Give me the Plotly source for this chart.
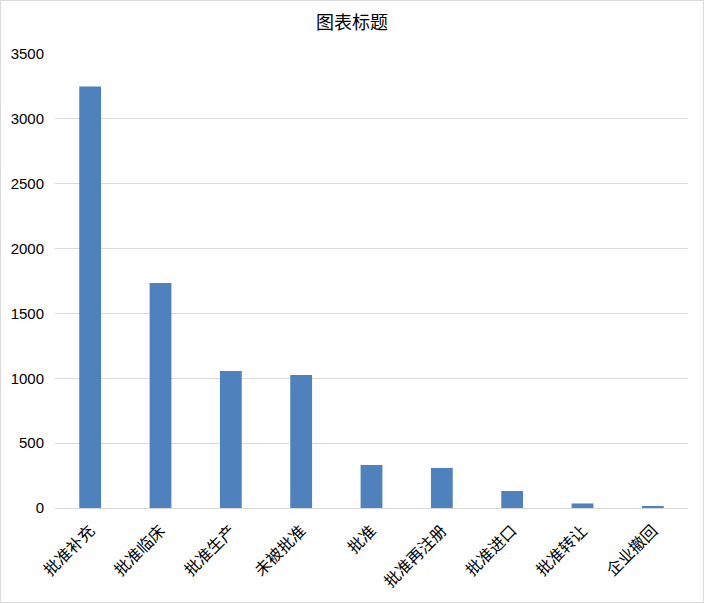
import plotly.graph_objects as go

# Categories and values
categories = ["批准补充", "批准临床", "批准生产", "未被批准", "批准",
              "批准再注册", "批准进口", "批准转让", "企业撤回"]
counts = [3249, 1734, 1056, 1025, 332, 309, 131, 35, 12]
y_ticks = [0, 500, 1000, 1500, 2000, 2500, 3000, 3500]

fig = go.Figure(
    go.Bar(
        x=categories,
        y=counts,
        marker=dict(color="#4f81bd", line=dict(width=0)),
    )
)

fig.update_layout(
    width=704,
    height=603,
    title=dict(
        text="图表标题",
        x=0.5,
        xanchor="center",
        y=0.963,
        yanchor="middle",
        font=dict(family="Noto Sans CJK SC", size=18, color="#000000"),
    ),
    font=dict(family="Noto Sans CJK SC", size=15, color="#000000"),
    plot_bgcolor="#ffffff",
    paper_bgcolor="#ffffff",
    margin=dict(l=55, r=16, t=54, b=95),
    bargap=0.69,
    showlegend=False,
)

fig.update_xaxes(
    tickangle=-45,
    showgrid=False,
    showline=True,
    linecolor="#d9d9d9",
    linewidth=1,
    ticks="",
    ticklabelstandoff=6,
    tickfont=dict(family="Noto Sans CJK SC", size=16, color="#000000"),
)

fig.update_yaxes(
    range=[0, 3500],
    tickvals=y_ticks,
    showgrid=True,
    gridcolor="#d9d9d9",
    gridwidth=1,
    zeroline=False,
    showline=False,
    ticks="",
    ticklabelstandoff=10,
    tickfont=dict(family="Liberation Sans", size=15, color="#000000"),
)

# Light border around the whole chart, like the Excel chart area
fig.add_shape(
    type="rect",
    xref="paper", yref="paper",
    x0=-54.5 / 633, x1=1 + 15.5 / 633,
    y0=-94.5 / 454, y1=1 + 53.5 / 454,
    line=dict(color="#d9d9d9", width=1),
    fillcolor="rgba(0,0,0,0)",
)

# drop the default page margin so the figure sits at the window corner
fig.write_html(
    "out.html",
    config={"displayModeBar": False},
    post_script="document.body.style.margin='0';",
)
